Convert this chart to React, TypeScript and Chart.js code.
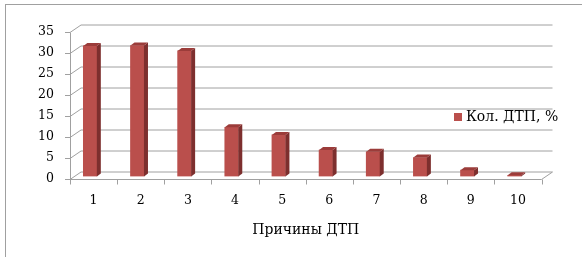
import React, { useEffect, useRef } from "react";
import { Chart, registerables } from "chart.js";

Chart.register(...registerables);

const categories = ["1", "2", "3", "4", "5", "6", "7", "8", "9", "10"];
const values = [31.1, 31.2, 29.9, 11.7, 9.9, 6.3, 5.9, 4.5, 1.5, 0.3];
const seriesLabel = "Кол. ДТП, %";
const axisTitle = "Причины ДТП";
const yMin = 0;
const yMax = 35;
const yStep = 5;

const W = 582;
const H = 257;
const DX = 11; // wall depth x
const DY = -7.5; // wall depth y
const BDX = 4; // bar depth
const BDY = -3;
const BAR_SHIFT_X = -3.5;
const BAR_SHIFT_Y = -2;
const GRID = "#a0a0a0";
const FACE = "#ba4f4c";
const SIDE = "#7d2f2e";
const TOP = "#9b3c3a";
const SERIF = "'DejaVu Serif', serif";

const threeD = {
  id: "threeD",
  beforeDraw(chart: any) {
    const { ctx } = chart;
    ctx.save();
    ctx.fillStyle = "#ffffff";
    ctx.fillRect(0, 0, W, H);
    ctx.strokeStyle = GRID;
    ctx.lineWidth = 1;
    ctx.strokeRect(5.5, 4.5, 800, 400);
    ctx.restore();
  },
  beforeDatasetsDraw(chart: any) {
    const { ctx, chartArea } = chart;
    const y = chart.scales.y;
    const x = chart.scales.x;
    const L = chartArea.left;
    const R = chartArea.right;
    const B = chartArea.bottom;
    ctx.save();
    ctx.strokeStyle = GRID;
    ctx.lineWidth = 1;
    ctx.beginPath();
    for (let v = yMin; v <= yMax; v += yStep) {
      const yy = Math.round(y.getPixelForValue(v)) + 0.5;
      // tick mark
      ctx.moveTo(L - 5, yy);
      ctx.lineTo(L, yy);
      // side wall diagonal + back wall line
      ctx.moveTo(L, yy);
      ctx.lineTo(L + DX, yy + DY);
      ctx.lineTo(R + DX, yy + DY);
    }
    // front vertical axis
    const top = Math.round(y.getPixelForValue(yMax)) + 0.5;
    ctx.moveTo(L + 0.5, top);
    ctx.lineTo(L + 0.5, Math.round(B) + 0.5);
    // floor front edge and right edge
    const fb = Math.round(B) + 0.5;
    ctx.moveTo(L, fb);
    ctx.lineTo(R, fb);
    ctx.lineTo(R + DX, fb + DY);
    // x ticks
    const n = categories.length;
    const cw = (R - L) / n;
    for (let i = 0; i <= n; i++) {
      const xx = Math.round(L + i * cw) + 0.5;
      ctx.moveTo(xx, fb);
      ctx.lineTo(xx, fb + 5);
    }
    ctx.stroke();
    ctx.restore();
    ctx.save();
    ctx.translate(BAR_SHIFT_X, BAR_SHIFT_Y);
  },
  afterDatasetsDraw(chart: any) {
    const { ctx } = chart;
    const meta = chart.getDatasetMeta(0);
    meta.data.forEach((bar: any) => {
      const props = bar.getProps(["x", "y", "base", "width"], true);
      const l = props.x - props.width / 2;
      const r = props.x + props.width / 2;
      const t = props.y;
      const b = props.base;
      ctx.fillStyle = SIDE;
      ctx.beginPath();
      ctx.moveTo(r, t);
      ctx.lineTo(r + BDX, t + BDY);
      ctx.lineTo(r + BDX, b + BDY);
      ctx.lineTo(r, b);
      ctx.closePath();
      ctx.fill();
      ctx.fillStyle = TOP;
      ctx.beginPath();
      ctx.moveTo(l, t);
      ctx.lineTo(l + BDX, t + BDY);
      ctx.lineTo(r + BDX, t + BDY);
      ctx.lineTo(r, t);
      ctx.closePath();
      ctx.fill();
    });
    ctx.restore();
  },
  afterDraw(chart: any) {
    const { ctx } = chart;
    ctx.save();
    ctx.fillStyle = FACE;
    ctx.fillRect(454, 113, 8, 8);
    ctx.fillStyle = "#000000";
    ctx.font = "14px " + SERIF;
    ctx.textAlign = "left";
    ctx.textBaseline = "middle";
    ctx.fillText(seriesLabel, 466, 117.5);
    ctx.restore();
  },
};

export default function App() {
  const ref = useRef<HTMLCanvasElement | null>(null);
  useEffect(() => {
    if (!ref.current) return;
    const chart = new Chart(ref.current, {
      type: "bar",
      data: {
        labels: categories,
        datasets: [
          {
            label: seriesLabel,
            data: values,
            backgroundColor: FACE,
            borderWidth: 0,
            barThickness: 13.5,
          },
        ],
      },
      options: {
        responsive: false,
        animation: false,
        devicePixelRatio: 1,
        layout: { padding: { left: 0, top: 31.5, right: 40.5, bottom: 0 } },
        plugins: { legend: { display: false }, tooltip: { enabled: false } },
        scales: {
          x: {
            grid: { display: false, drawTicks: false },
            border: { display: false },
            ticks: { color: "#000", font: { family: SERIF, size: 12.5 }, padding: 15, maxRotation: 0 },
            title: {
              display: true,
              text: axisTitle,
              color: "#000",
              font: { family: SERIF, size: 14 },
              padding: { top: 0, bottom: 18 },
            },
            afterFit: (s: any) => {
              s.height = 78.5;
            },
          },
          y: {
            min: yMin,
            max: yMax,
            grid: { display: false, drawTicks: false },
            border: { display: false },
            ticks: { stepSize: yStep, color: "#000", font: { family: SERIF, size: 12.5 }, padding: 16 },
            afterFit: (s: any) => {
              s.width = 70;
            },
          },
        },
      },
      plugins: [threeD],
    });
    return () => chart.destroy();
  }, []);
  return (
    <div style={{ position: "fixed", left: 0, top: 0, width: W, height: H, background: "#fff" }}>
      <canvas ref={ref} width={W} height={H} style={{ width: W, height: H, display: "block" }} />
    </div>
  );
}
